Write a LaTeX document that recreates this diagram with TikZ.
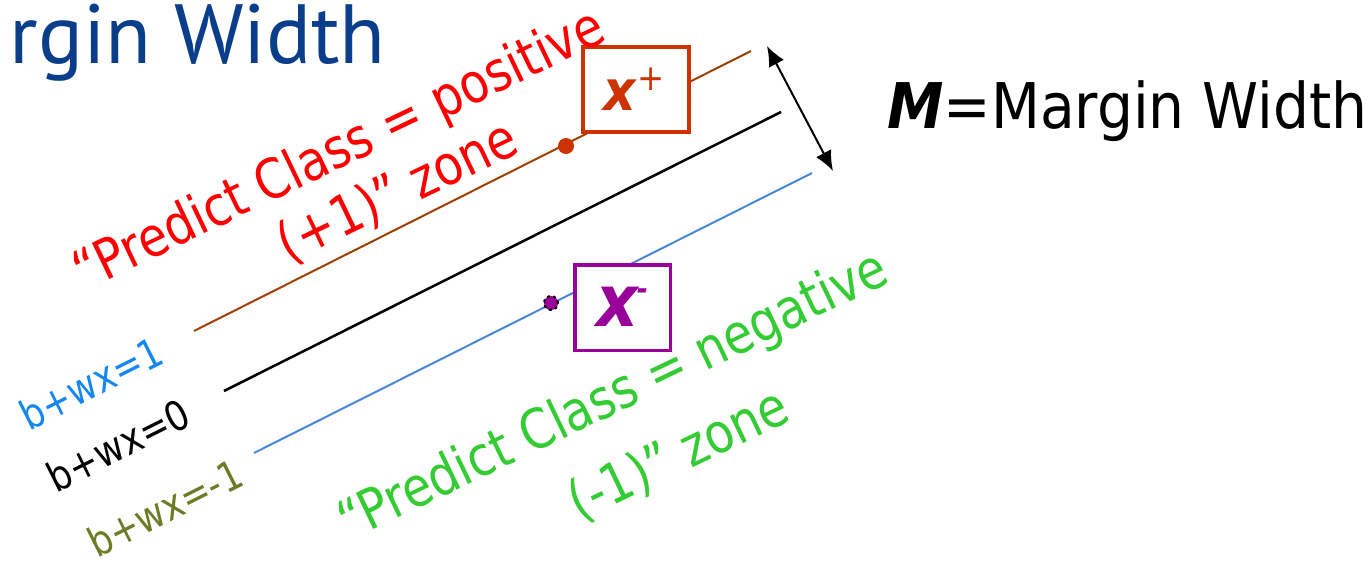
\documentclass[tikz,border=0pt]{standalone}
\usepackage{fontspec}
\newfontfamily\tah[FakeStretch=0.9]{DejaVu Sans}
\newfontfamily\tahn[FakeStretch=0.86]{DejaVu Sans}
\newfontfamily\titlefont{PT Sans}
\usetikzlibrary{arrows.meta}
\definecolor{titleblue}{RGB}{10,61,138}
\definecolor{zred}{RGB}{255,0,0}
\definecolor{zgreen}{RGB}{51,204,51}
\definecolor{brownline}{RGB}{160,64,0}
\definecolor{blueline}{RGB}{74,134,216}
\definecolor{lblue}{RGB}{20,136,240}
\definecolor{olive}{RGB}{107,123,38}
\definecolor{xplus}{RGB}{204,51,0}
\definecolor{xminus}{RGB}{153,0,153}
\begin{document}
\begin{tikzpicture}[x=1pt,y=-1pt,
  lbl/.style={font=\tahn\fontsize{41}{48}\selectfont, rotate=26.6, inner sep=0pt},
  zone/.style={font=\tahn\fontsize{55}{64}\selectfont, rotate=25.6, inner sep=0pt},
  xbox/.style={draw, fill=white, inner sep=0pt},
  hyper/.style={line width=2pt},
  marr/.style={{Latex[length=20pt,width=17pt]}-{Latex[length=20pt,width=17pt]}, line width=2pt}
]
\useasboundingbox (0,0) rectangle (1369,568);
% title
\node[anchor=base east, inner sep=0pt, text=titleblue, font=\titlefont\fontsize{84}{90}\selectfont] (title) at (386,63) {rgin Width};
% hyperplanes
\coordinate (p1a) at (194,331); \coordinate (p1b) at (751,51);
\coordinate (p0a) at (224,391); \coordinate (p0b) at (781,112);
\coordinate (m1a) at (254,453); \coordinate (m1b) at (812,173);
\draw[hyper, brownline] (p1a) -- (p1b);
\draw[hyper, black, line width=2.5pt] (p0a) -- (p0b);
\draw[hyper, blueline] (m1a) -- (m1b);
% margin arrow
\coordinate (ma) at (767,46); \coordinate (mb) at (833,171);
\draw[marr] (ma) -- (mb);
% support vectors
\node[circle, fill=xplus, minimum size=16pt, inner sep=0pt] (dp) at (566,146) {};
\node[circle, fill=xminus, draw=black, line width=2pt, dash pattern=on 2pt off 4.2pt, line cap=round, minimum size=14pt, inner sep=0pt] (dm) at (551,303) {};
% boxes
\node[xbox, draw=xplus, line width=4pt, minimum width=106pt, minimum height=85pt] (xpbox) at (636,89.5) {};
\node[text=xplus, inner sep=0pt, font=\tah\bfseries\itshape\fontsize{56}{60}\selectfont] (xp) at (634,89) {x\kern1pt\raisebox{20pt}{\fontsize{36}{36}\selectfont\upshape\mdseries +}};
\node[xbox, draw=xminus, line width=3.5pt, minimum width=95.5pt, minimum height=85.5pt] (xmbox) at (622.5,307.5) {};
\node[text=xminus, inner sep=0pt, font=\tah\bfseries\itshape\fontsize{72}{80}\selectfont] (xm) at (622,307) {x\kern-1pt\raisebox{27pt}{\fontsize{30}{30}\selectfont -}};
% zone texts
\node[zone, text=zred] (pos1) at (340,152) {“Predict Class = positive};
\node[zone, text=zred] (pos2) at (398,192) {(+1)” zone};
\node[zone, text=zgreen] (neg1) at (614,398) {“Predict Class = negative};
\node[zone, text=zgreen] (neg2) at (679,455) {(-1)” zone};
% line labels
\node[lbl, text=lblue] (l1) at (91,383) {b+wx=1};
\node[lbl, text=black] (l0) at (118,445) {b+wx=0};
\node[lbl, text=olive] (lm1) at (165,508) {b+wx=-1};
% legend
\node[anchor=base west, inner sep=0pt, font=\tah\fontsize{63}{70}\selectfont] (mw) at (887,128) {{\bfseries\itshape M}=Margin Width};
\end{tikzpicture}
\end{document}
